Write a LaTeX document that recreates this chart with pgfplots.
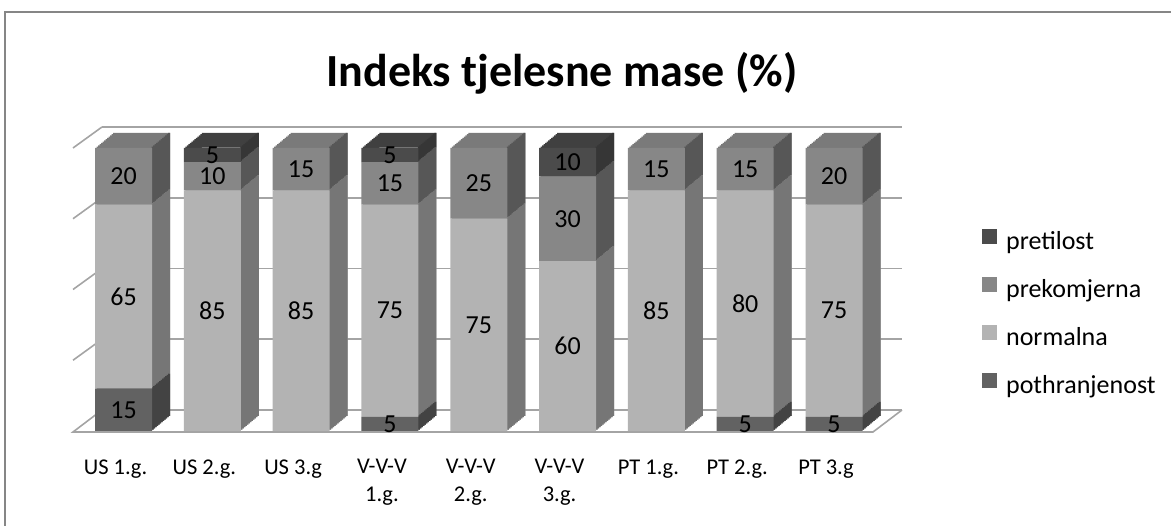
\documentclass[border=0pt]{standalone}
\usepackage{fontspec}
\setmainfont{Carlito}
\usepackage{pgfplots}
\pgfplotsset{compat=1.18}
\usepackage{pgfplotstable}

\definecolor{fpot}{HTML}{626262}
\definecolor{fnor}{HTML}{B3B3B3}
\definecolor{fpre}{HTML}{878787}
\definecolor{fpret}{HTML}{4B4B4B}
\definecolor{spot}{HTML}{434343}
\definecolor{snor}{HTML}{767676}
\definecolor{spre}{HTML}{575757}
\definecolor{spret}{HTML}{363636}
\definecolor{tpot}{HTML}{555555}
\definecolor{tnor}{HTML}{A0A0A0}
\definecolor{tpre}{HTML}{7A7A7A}
\definecolor{tpret}{HTML}{404040}
\definecolor{gridc}{HTML}{A4A4A4}
\definecolor{framec}{HTML}{868686}

\pgfplotstableread{
x pot nor pre pret
0 15 65 20 0
1 0 85 10 5
2 0 85 15 0
3 5 75 15 5
4 0 75 25 0
5 0 60 30 10
6 0 85 15 0
7 5 80 15 0
8 5 75 20 0
}\data
% label positions: middle of each stacked segment
\pgfplotstablecreatecol[create col/expr={\thisrow{pot}/2}]{mpot}{\data}
\pgfplotstablecreatecol[create col/expr={\thisrow{pot}+\thisrow{nor}/2}]{mnor}{\data}
\pgfplotstablecreatecol[create col/expr={\thisrow{pot}+\thisrow{nor}+\thisrow{pre}/2}]{mpre}{\data}
\pgfplotstablecreatecol[create col/expr={\thisrow{pot}+\thisrow{nor}+\thisrow{pre}+\thisrow{pret}/2}]{mpret}{\data}

\tikzset{
  cp/.style args={#1/#2}{preaction={fill=#2, draw=none, transform canvas={shift={(#1*1.5pt,#1*1.25pt)}}}},
  copies/.style={cp/.list={1/#1,2/#1,3/#1,4/#1,5/#1,6/#1,7/#1,8/#1,9/#1,10/#1,11/#1,12/#1}}
}

\pgfplotsset{
  base/.style={at={(73pt,95pt)}, anchor=south west, x=88.81pt, y=2.83pt,
    xmin=-0.569, xmax=8.44, ymin=0, ymax=100, clip=false,
    axis line style={draw=none}, major tick length=0pt, ytick=\empty}
}

\begin{document}
\begin{tikzpicture}
\useasboundingbox (0,0) rectangle (1171pt,526pt);
\draw[framec, line width=1.5pt] (5pt,-10pt) -- (5pt,514pt) -- (1190pt,514pt);
\node[font=\bfseries\fontsize{46}{52}\selectfont] at (562pt,453pt) {Indeks tjelesne mase (\%)};

% back wall grid
\begin{axis}[at={(102pt,116pt)}, anchor=south west, x=88.81pt, y=2.83pt,
  xmin=-0.569, xmax=8.44, ymin=0, ymax=100,
  axis line style={draw=none}, xtick=\empty, ytick={0,25,50,75,100}, yticklabels={},
  major tick length=0pt, ymajorgrids, major grid style={line width=1.6pt, gridc}]
\end{axis}
% left wall and floor
\foreach \v in {25,50,75,100}
  \draw[gridc, line width=1.6pt] (73pt,{95pt+2.83pt*\v}) -- (102pt,{116pt+2.83pt*\v});
\draw[gridc, line width=1.6pt] (102pt,116pt) -- (73pt,94pt) -- (873pt,94pt) -- (902pt,116pt);

% top faces (full copies)
\begin{axis}[base, ybar stacked, bar width=57pt, xtick=\empty]
\addplot[fill=none, draw=none, copies=tpot] table[x=x,y=pot]{\data};
\addplot[fill=none, draw=none, copies=tnor] table[x=x,y=nor]{\data};
\addplot[fill=none, draw=none, copies=tpre] table[x=x,y=pre]{\data};
\addplot[fill=none, draw=none, copies=tpret] table[x=x,y=pret]{\data};
\end{axis}

% side faces (strip copies)
\begin{axis}[base, ybar stacked, bar width=2pt, bar shift=27.5pt, xtick=\empty]
\addplot[fill=none, draw=none, copies=spot] table[x=x,y=pot]{\data};
\addplot[fill=none, draw=none, copies=snor] table[x=x,y=nor]{\data};
\addplot[fill=none, draw=none, copies=spre] table[x=x,y=pre]{\data};
\addplot[fill=none, draw=none, copies=spret] table[x=x,y=pret]{\data};
\end{axis}

% front faces
\begin{axis}[base, ybar stacked, bar width=57pt,
  xtick={0,...,8},
  xticklabels={{US 1.g.},{US 2.g.},{US 3.g},{V-V-V\\1.g.},{V-V-V\\2.g.},{V-V-V\\3.g.},{PT 1.g.},{PT 2.g.},{PT 3.g}},
  xticklabel style={align=center, font=\fontsize{22.5}{28}\selectfont, yshift=-25pt, xshift=-8pt},
  reverse legend,
  legend style={at={(1.136,0.413)}, anchor=west, draw=none, fill=none,
    font=\fontsize{26}{26}\selectfont, row sep=22pt, column sep=9pt, inner sep=0pt,
    nodes={inner sep=0pt, text height=18pt, text depth=6pt}},
  legend cell align=left,
  legend image code/.code={\fill[#1] (0pt,-1pt) rectangle (15pt,14pt);}]
\addplot[fill=fpot, draw=none] table[x=x,y=pot]{\data};
\addplot[fill=fnor, draw=none] table[x=x,y=nor]{\data};
\addplot[fill=fpre, draw=none] table[x=x,y=pre]{\data};
\addplot[fill=fpret, draw=none] table[x=x,y=pret]{\data};
\legend{pothranjenost,normalna,prekomjerna,pretilost}
\end{axis}

% value labels, centred in each segment (zero segments skipped)
\begin{axis}[base, xtick=\empty, point meta=explicit, unbounded coords=discard,
  /pgf/number format/assume math mode=true,
  nodes near coords={\pgfmathprintnumber{\pgfplotspointmeta}},
  every node near coord/.append style={anchor=center, inner sep=0pt, font=\fontsize{26}{26}\selectfont, text=black}]
\addplot[draw=none, mark=none, nodes near coords, x filter/.expression={\thisrow{pot}==0 ? nan : x}] table[x=x,y=mpot,meta=pot]{\data};
\addplot[draw=none, mark=none, nodes near coords, x filter/.expression={\thisrow{nor}==0 ? nan : x}] table[x=x,y=mnor,meta=nor]{\data};
\addplot[draw=none, mark=none, nodes near coords, x filter/.expression={\thisrow{pre}==0 ? nan : x}] table[x=x,y=mpre,meta=pre]{\data};
\addplot[draw=none, mark=none, nodes near coords, x filter/.expression={\thisrow{pret}==0 ? nan : x}] table[x=x,y=mpret,meta=pret]{\data};
\end{axis}
\end{tikzpicture}
\end{document}
